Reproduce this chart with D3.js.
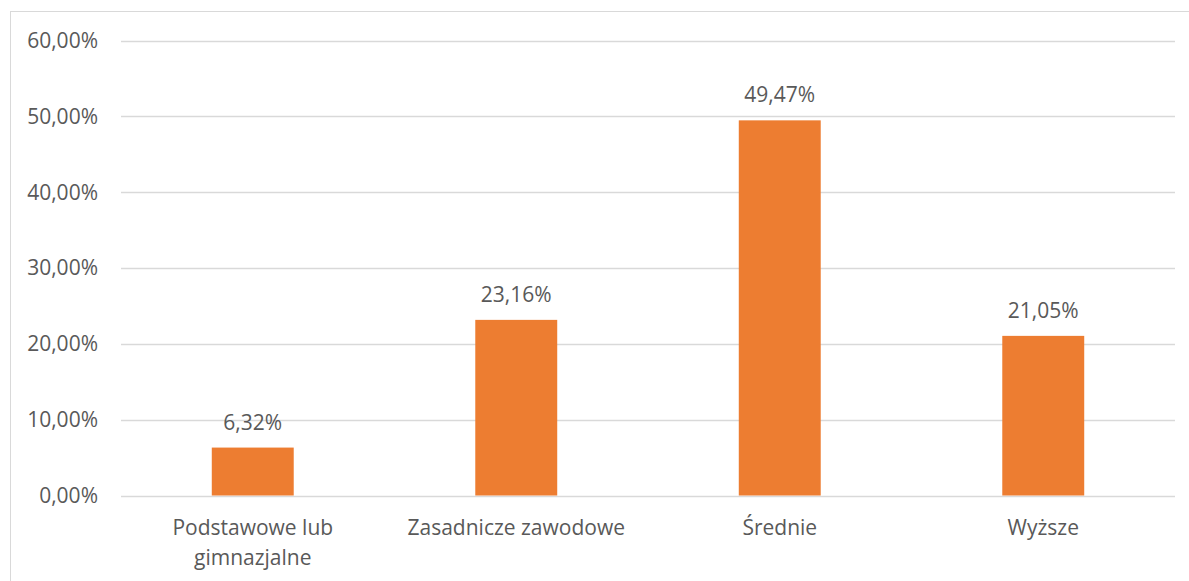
<!DOCTYPE html>
<html>
<head>
<meta charset="utf-8">
<script src="https://cdn.jsdelivr.net/npm/d3@7"></script>
<style>
  body { margin: 0; background: #fff; }
  text { font-family: "Open Sans", sans-serif; fill: #595959; }
</style>
</head>
<body>
<svg id="chart" width="1189" height="581"></svg>
<script>
const categories = [["Podstawowe lub", "gimnazjalne"], ["Zasadnicze zawodowe"], ["Średnie"], ["Wyższe"]];
const values = [6.32, 23.16, 49.47, 21.05];
const yTicks = [0, 10, 20, 30, 40, 50, 60];

const width = 1189;
const height = 581;
const margin = { left: 121, right: 14, top: 40.5, bottom: 85.5 };

const svg = d3.select("#chart");

// chart border
svg.append("rect")
    .attr("x", 10.5).attr("y", 11.5)
    .attr("width", 1200).attr("height", 600)
    .attr("fill", "none")
    .attr("stroke", "#d9d9d9");

const x = d3.scaleBand()
    .domain(d3.range(values.length))
    .range([margin.left, width - margin.right])
    .paddingInner(0.689)
    .paddingOuter(0.3445);

const y = d3.scaleLinear()
    .domain([0, 60])
    .range([height - margin.bottom, margin.top]);

const fmt = v => d3.format(".2f")(v).replace(".", ",") + "%";

// gridlines
svg.append("g")
    .selectAll("line")
    .data(yTicks)
    .join("line")
    .attr("x1", margin.left)
    .attr("x2", width - margin.right)
    .attr("y1", d => Math.round(y(d)) + 0.5)
    .attr("y2", d => Math.round(y(d)) + 0.5)
    .attr("stroke", "#d9d9d9")
    .attr("stroke-width", 1.3);

// y labels
svg.append("g")
    .selectAll("text")
    .data(yTicks)
    .join("text")
    .attr("x", 98)
    .attr("y", d => y(d))
    .attr("dy", "0.35em")
    .attr("text-anchor", "end")
    .style("font-size", "21px")
    .text(d => fmt(d));

// bars
svg.append("g")
    .selectAll("rect")
    .data(values)
    .join("rect")
    .attr("x", (d, i) => x(i))
    .attr("width", x.bandwidth())
    .attr("y", d => y(d))
    .attr("height", d => y(0) - y(d))
    .attr("fill", "#ed7d31");

// value labels
svg.append("g")
    .selectAll("text")
    .data(values)
    .join("text")
    .attr("x", (d, i) => x(i) + x.bandwidth() / 2)
    .attr("y", d => y(d) - 18)
    .attr("text-anchor", "middle")
    .style("font-size", "21px")
    .text(d => fmt(d));

// category labels
const cat = svg.append("g")
    .selectAll("text")
    .data(categories)
    .join("text")
    .attr("x", (d, i) => x(i) + x.bandwidth() / 2)
    .attr("y", 535)
    .attr("text-anchor", "middle")
    .style("font-size", "21px");

cat.selectAll("tspan")
    .data(d => d)
    .join("tspan")
    .attr("x", function() { return d3.select(this.parentNode).attr("x"); })
    .attr("dy", (d, i) => i === 0 ? 0 : 30)
    .text(d => d);
</script>
</body>
</html>
